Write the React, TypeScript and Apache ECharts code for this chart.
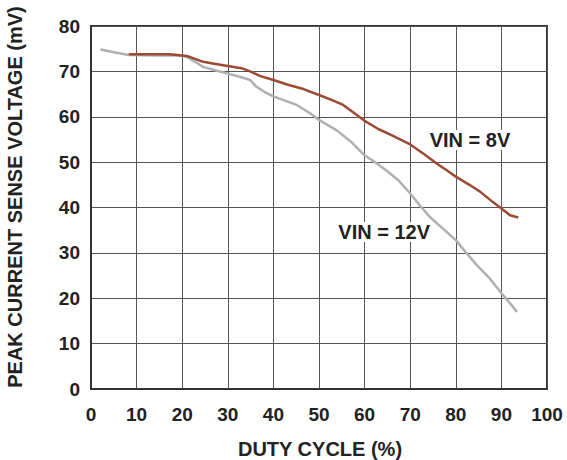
import React, { useEffect, useRef } from "react";
import * as echarts from "echarts";

const xTicks = [0, 10, 20, 30, 40, 50, 60, 70, 80, 90, 100];
const yTicks = [0, 10, 20, 30, 40, 50, 60, 70, 80];

const vin8: [number, number][] = [
  [8.3, 73.8], [12, 73.8], [17.3, 73.8], [21, 73.4], [24.6, 72.1], [27, 71.7],
  [30, 71.2], [33, 70.7], [34.9, 70.0], [37, 69.0], [40, 68.1], [43, 67.1],
  [46.6, 66.1], [50, 64.8], [53, 63.6], [55.3, 62.6], [58, 60.6], [60, 59.1],
  [63, 57.3], [66, 55.9], [70, 53.9], [73, 51.8], [75.8, 49.7], [78, 48.2],
  [80, 46.8], [83, 45.0], [85.3, 43.5], [88, 41.3], [90, 39.8], [91.9, 38.3],
  [93.7, 37.8],
];

const vin12: [number, number][] = [
  [2.1, 74.8], [5, 74.2], [8.3, 73.6], [14, 73.5], [19, 73.5], [21, 73.2],
  [23, 72.0], [24.6, 71.0], [27, 70.3], [30, 69.5], [33, 68.7], [34.9, 68.1],
  [36.3, 66.6], [38, 65.5], [40, 64.5], [43, 63.4], [45.1, 62.6], [48, 60.8],
  [50, 59.3], [53.9, 57.0], [57, 54.5], [60, 51.5], [63, 49.5], [65, 48.0],
  [67.4, 46.0], [70, 43.1], [72, 40.6], [74.3, 37.9], [77, 35.5], [80, 32.8],
  [82.3, 30.0], [84.6, 27.3], [87.5, 24.3], [90, 21.1], [91.9, 18.9], [93.4, 17.0],
];

const seriesNames = ["VIN = 8V", "VIN = 12V"];
const labelPos: [number, number][] = [[83.1, 54.9], [64.3, 34.6]];

const xTitle = "DUTY CYCLE (%)";
const yTitle = "PEAK CURRENT SENSE VOLTAGE (mV)";

const FONT = "'Liberation Sans', Arial, sans-serif";

export default function App() {
  const ref = useRef<HTMLDivElement>(null);
  useEffect(() => {
    if (!ref.current) return;
    const chart = echarts.init(ref.current, undefined, { renderer: "svg" });
    const mkLabel = (name: string, pos: [number, number]) => ({
      symbol: "circle",
      symbolSize: 1,
      silent: true,
      itemStyle: { color: "rgba(0,0,0,0)" },
      label: {
        show: true,
        position: "inside",
        formatter: name,
        fontFamily: FONT,
        fontWeight: "bold",
        fontSize: 20,
        color: "#222",
        backgroundColor: "#fff",
        padding: [0, 2],
      },
      data: [{ coord: pos }],
    });
    chart.setOption({
      animation: false,
      backgroundColor: "#fff",
      grid: {
        left: 91,
        right: 20,
        top: 26,
        bottom: 71,
        show: true,
        borderColor: "#333",
        borderWidth: 2,
      },
      xAxis: {
        type: "value",
        min: 0,
        max: 100,
        interval: 10,
        axisLine: { show: true, lineStyle: { color: "#333", width: 2 } },
        axisTick: { show: false },
        splitLine: { show: true, lineStyle: { color: "#555", width: 1 } },
        axisLabel: {
          margin: 16,
          fontFamily: FONT,
          fontWeight: "bold",
          fontSize: 19,
          color: "#222",
          formatter: (v: number) => (xTicks.includes(v) ? String(v) : ""),
        },
      },
      yAxis: {
        type: "value",
        min: 0,
        max: 80,
        interval: 10,
        axisLine: { show: true, lineStyle: { color: "#333", width: 2 } },
        axisTick: { show: false },
        splitLine: { show: true, lineStyle: { color: "#555", width: 1 } },
        axisLabel: {
          margin: 11,
          fontFamily: FONT,
          fontWeight: "bold",
          fontSize: 19,
          color: "#222",
          formatter: (v: number) => (yTicks.includes(v) ? String(v) : ""),
        },
      },
      graphic: [
        {
          type: "text",
          x: 320,
          y: 449,
          style: {
            text: xTitle,
            fontFamily: FONT,
            fontWeight: "bold",
            fontSize: 20,
            fill: "#222",
            align: "center",
            verticalAlign: "middle",
          },
        },
        {
          type: "text",
          x: 15,
          y: 197,
          rotation: Math.PI / 2,
          style: {
            text: yTitle,
            fontFamily: FONT,
            fontWeight: "bold",
            fontSize: 20,
            fill: "#222",
            align: "center",
            verticalAlign: "middle",
          },
        },
      ],
      series: [
        {
          name: seriesNames[1],
          type: "line",
          data: vin12,
          showSymbol: false,
          smooth: false,
          lineStyle: { color: "#b0b0b0", width: 2.5 },
          z: 3,
          markPoint: mkLabel(seriesNames[1], labelPos[1]),
        },
        {
          name: seriesNames[0],
          type: "line",
          data: vin8,
          showSymbol: false,
          smooth: false,
          lineStyle: { color: "#9b4a33", width: 2.5 },
          z: 4,
          markPoint: mkLabel(seriesNames[0], labelPos[0]),
        },
      ],
    });
    return () => chart.dispose();
  }, []);
  return <div ref={ref} style={{ width: 567, height: 460, position: "absolute", left: 0, top: 0 }} />;
}
